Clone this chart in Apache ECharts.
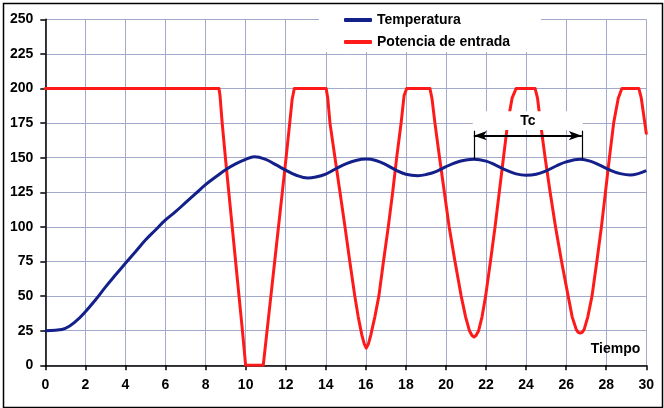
<!DOCTYPE html>
<html>
<head>
<meta charset="utf-8">
<script src="https://cdn.jsdelivr.net/npm/echarts@6/dist/echarts.min.js"></script>
<style>
html,body{margin:0;padding:0;background:#fff;}
#chart{width:664px;height:408px;}
</style>
</head>
<body>
<div id="chart"></div>
<script>
// ---- Data ----
const seriesNames = ['Temperatura', 'Potencia de entrada'];
const xAxisName = 'Tiempo';
const annotationText = 'Tc';

const tempTime = [0,0.5,1,1.5,2,2.5,3,3.5,4,4.5,5,5.5,6,6.5,7,7.5,8,8.5,9,9.5,10,10.43,11,11.5,12,12.5,13.1,13.5,14,14.5,15,15.5,16.03,16.5,17,17.5,18,18.6,19,19.5,20,20.5,21,21.4,22,22.5,23,23.5,24,24.5,25,25.5,26,26.7,27.2,27.7,28.2,28.7,29.2,29.6,30];
const tempValue = [25,25.3,26.7,31.5,38.7,47.2,56.5,65.2,73.7,82,90.5,97.8,105,111,117.5,124,130.5,136,141.3,145.5,148.8,150.7,148.8,145,141,137.5,135.3,136,138.2,142,145.5,148,149,148,145,141,138,137,137.8,140,143.5,146.5,148.3,148.8,147.5,144.5,141,138.3,137.3,138,140.5,144,147,148.8,147.5,144.5,141,138.5,137.5,138.5,140.6];

const powerTime = [0,8.67,8.72,8.83,8.99,9.16,9.33,9.5,9.67,9.84,10.0,10.88,11.07,11.26,11.45,11.64,11.83,12.02,12.2,12.32,12.43,
  14.02,14.1,14.21,14.46,14.71,14.96,15.2,15.45,15.62,15.8,15.92,16.02,16.13,16.25,16.45,16.65,16.88,17.12,17.34,17.54,17.76,17.91,18.04,
  19.2,19.3,19.45,19.68,19.92,20.16,20.45,20.76,20.98,21.17,21.3,21.4,21.5,21.63,21.8,21.98,22.22,22.45,22.66,22.87,23.08,23.3,23.5,
  24.45,24.57,24.72,24.95,25.2,25.47,25.77,26.1,26.3,26.5,26.6,26.7,26.8,26.9,27.08,27.29,27.53,27.76,27.96,28.16,28.37,28.6,28.78,
  29.63,29.75,30];
const powerValue = [200,200,195,175,150,125,100,75,50,25,0,0,25,50,75,100,125,150,175,192,200,
  200,193,175,150,125,100,75,50,35,22,15.5,12.5,15.5,22,35,50,75,100,125,150,175,195,200,
  200,193,175,150,125,100,75,50,35,25,21.5,20.5,21.5,25,35,50,75,100,125,150,175,193,200,
  200,193,175,150,125,100,75,50,35,26,23.8,23.3,23.8,26,35,50,75,100,125,150,175,193,200,
  200,193,167.6];

// Tc annotation (data units)
const tcStart = 21.39, tcEnd = 26.78;
const tcPeakValue = 148.8, tcArrowValue = 165.9, tcTickTop = 169.5;
const tcBoxBottom = 170, tcBoxTop = 183.5;

const xRange = [0, 30], xStep = 2;
const yRange = [0, 250], yStep = 25;

const tempData = tempTime.map((t, i) => [t, tempValue[i]]);
const powerData = powerTime.map((t, i) => [t, powerValue[i]]);

const font = "'Liberation Sans', Arial, sans-serif";
const gridColor = '#a3a9cb';
const blue = '#13208a';
const red = '#ff1a1a';

const chart = echarts.init(document.getElementById('chart'), null, {renderer: 'canvas'});
chart.setOption({
  animation: false,
  backgroundColor: '#ffffff',
  textStyle: {fontFamily: font},
  grid: {left: 45.3, right: 17.7, top: 19.3, bottom: 42.7, containLabel: false},
  legend: {
    data: seriesNames,
    orient: 'vertical',
    left: 319,
    top: 5,
    padding: [8, 31, 3, 25],
    backgroundColor: '#ffffff',
    itemWidth: 28,
    itemHeight: 4,
    itemGap: 8,
    icon: 'roundRect',
    textStyle: {fontFamily: font, fontSize: 14, fontWeight: 'bold', color: '#000'}
  },
  xAxis: {
    type: 'value',
    min: xRange[0], max: xRange[1], interval: xStep,
    name: xAxisName,
    nameLocation: 'end',
    nameGap: -6,
    nameTextStyle: {fontFamily: font, fontSize: 14, fontWeight: 'bold', color: '#000', align: 'right', verticalAlign: 'bottom', padding: [0, 0, 9, 0]},
    axisLine: {show: true, onZero: false, lineStyle: {color: '#000', width: 1.5}},
    axisTick: {show: true, length: 5, lineStyle: {color: '#000', width: 1.5}},
    axisLabel: {fontFamily: font, fontSize: 14, fontWeight: 'bold', color: '#000', margin: 13},
    splitLine: {show: true, lineStyle: {color: gridColor, width: 1}}
  },
  yAxis: {
    type: 'value',
    min: yRange[0], max: yRange[1], interval: yStep,
    axisLine: {show: true, lineStyle: {color: '#000', width: 1.5}},
    axisTick: {show: true, length: 5, lineStyle: {color: '#000', width: 1.5}},
    axisLabel: {fontFamily: font, fontSize: 14, fontWeight: 'bold', color: '#000', margin: 12},
    splitLine: {show: true, lineStyle: {color: gridColor, width: 1}}
  },
  series: [
    {
      name: seriesNames[0],
      type: 'line',
      data: tempData,
      smooth: 0.4,
      showSymbol: false,
      symbol: 'none',
      lineStyle: {color: blue, width: 3},
      itemStyle: {color: blue},
      z: 3
    },
    {
      name: seriesNames[1],
      type: 'line',
      data: powerData,
      smooth: false,
      showSymbol: false,
      symbol: 'none',
      lineStyle: {color: red, width: 3, join: 'round', cap: 'round'},
      itemStyle: {color: red},
      z: 2
    },
    {
      name: annotationText,
      type: 'line',
      data: [],
      silent: true,
      markArea: {
        z: 3,
        silent: true,
        itemStyle: {color: '#ffffff', opacity: 1, borderWidth: 0},
        label: {show: true, position: 'inside', fontFamily: font, fontSize: 14, fontWeight: 'bold', color: '#000'},
        data: [[
          {name: annotationText, coord: [tcStart - 0.05, tcBoxTop]},
          {coord: [tcEnd + 0.05, tcBoxBottom]}
        ]]
      },
      markLine: {
        z: 6,
        silent: true,
        animation: false,
        label: {show: false},
        symbol: ['arrow', 'arrow'],
        symbolSize: [7, 13],
        lineStyle: {color: '#000', width: 2, type: 'solid'},
        data: [
          [{coord: [tcStart, tcArrowValue]}, {coord: [tcEnd, tcArrowValue]}],
          [{coord: [tcStart, tcPeakValue], symbol: 'none', lineStyle: {width: 1.2}}, {coord: [tcStart, tcTickTop], symbol: 'none'}],
          [{coord: [tcEnd, tcPeakValue], symbol: 'none', lineStyle: {width: 1.2}}, {coord: [tcEnd, tcTickTop], symbol: 'none'}]
        ]
      }
    }
  ],
  graphic: [
    {
      type: 'rect',
      left: 1, top: 1,
      shape: {width: 659, height: 404},
      style: {fill: 'none', stroke: '#000', lineWidth: 1.5},
      silent: true,
      z: 10
    }
  ]
});
</script>
</body>
</html>
